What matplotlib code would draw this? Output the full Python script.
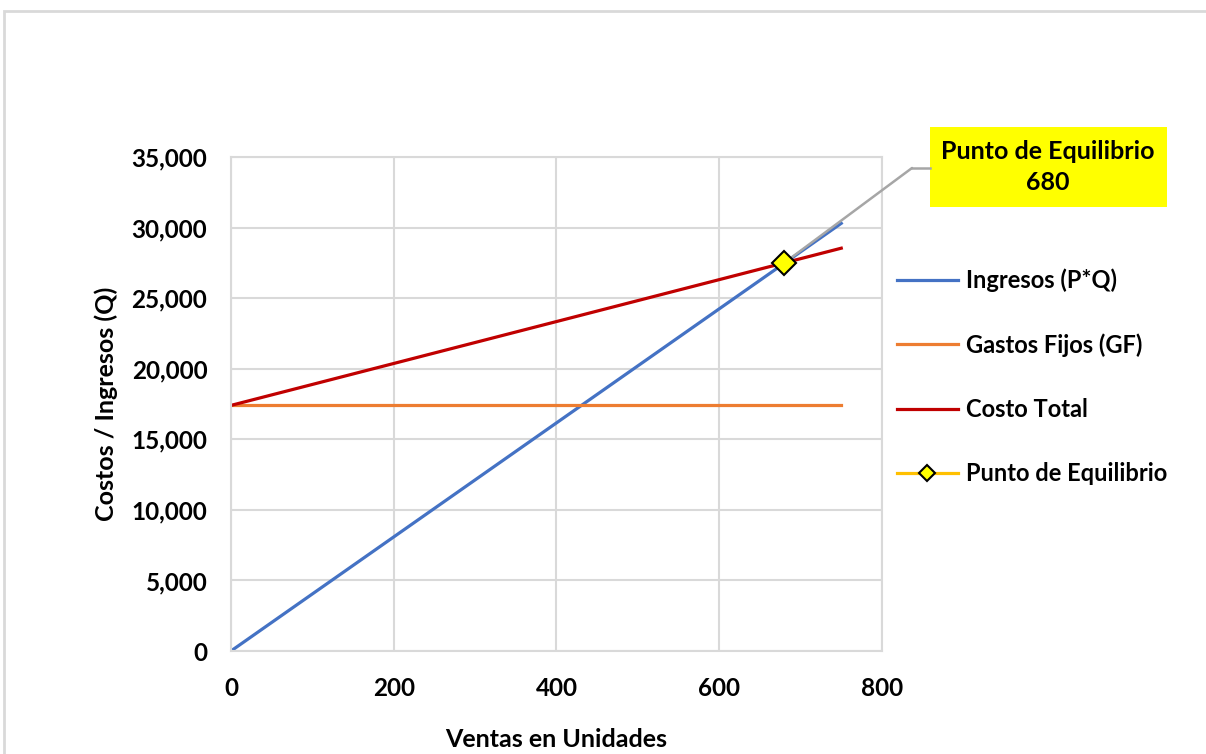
import matplotlib.pyplot as plt
from matplotlib.lines import Line2D
from matplotlib.patches import Rectangle
from matplotlib.ticker import FuncFormatter

plt.rcParams['font.family'] = ['Lato', 'DejaVu Sans']
plt.rcParams['font.weight'] = 'bold'

# unidades vendidas
unidades = [0, 50, 100, 150, 200, 250, 300, 350, 400, 450, 500, 550, 600, 650, 700, 750]
ingresos = [0, 2020, 4040, 6060, 8080, 10100, 12120, 14140, 16160, 18180,
            20200, 22220, 24240, 26260, 28280, 30300]
gastos_fijos = [17400] * 16
costo_total = [17400, 18143, 18885, 19628, 20370, 21113, 21855, 22598, 23340,
               24083, 24825, 25568, 26310, 27053, 27795, 28538]
equilibrio_q = 680
equilibrio_v = 27500

fig = plt.figure(figsize=(12.06, 7.54), dpi=100)
ax = fig.add_axes([0.1915, 0.1366, 0.5398, 0.6552])

ax.plot(unidades, ingresos, color='#4472C4', lw=2.3, label='Ingresos (P*Q)')
ax.plot(unidades, gastos_fijos, color='#ED7D31', lw=2.3, label='Gastos Fijos (GF)')
ax.plot(unidades, costo_total, color='#C00000', lw=2.3, label='Costo Total')
ax.plot([equilibrio_q], [equilibrio_v], color='#FFC000', lw=2.3, marker='D',
        markersize=12, markerfacecolor='#FFFF00', markeredgecolor='black',
        markeredgewidth=1.5, label='Punto de Equilibrio', zorder=5)

ax.set_xlim(0, 800)
ax.set_ylim(0, 35000)
ax.set_xticks(range(0, 801, 200))
ax.set_yticks(range(0, 35001, 5000))
ax.yaxis.set_major_formatter(FuncFormatter(lambda v, p: f'{int(v):,}'))
ax.grid(True, color='#D9D9D9', lw=1.5)
ax.set_axisbelow(True)
for s in ax.spines.values():
    s.set_color('#D9D9D9')
    s.set_linewidth(1.5)
ax.tick_params(length=0, labelsize=17.5)
ax.tick_params(axis='y', pad=17)
ax.tick_params(axis='x', pad=19)

ax.set_xlabel('Ventas en Unidades', fontsize=18, fontweight='bold', labelpad=20)
ax.set_ylabel('Costos / Ingresos (Q)', fontsize=18, fontweight='bold', labelpad=10)

ax.legend(loc='center left', bbox_to_anchor=(0.99, 0.555), frameon=False,
          fontsize=17, handlelength=2.6, labelspacing=1.75, handletextpad=0.35,
          markerscale=0.7)

# etiqueta del punto de equilibrio con linea guia
codo = (912, 586)
ax.annotate('', xy=(equilibrio_q, equilibrio_v), xycoords='data',
            xytext=codo, textcoords='figure pixels',
            arrowprops=dict(arrowstyle='-', color='#A6A6A6', lw=1.8,
                            shrinkA=0, shrinkB=0), zorder=4)
fig.add_artist(Line2D([codo[0], 930], [codo[1], codo[1]], color='#A6A6A6', lw=1.8,
                      transform=None))
fig.add_artist(Rectangle((930, 547), 237, 80, facecolor='#FFFF00',
                         edgecolor='none', transform=None))
fig.text(1048 / 1206, 587 / 754, f'Punto de Equilibrio\n{equilibrio_q}',
         ha='center', va='center', fontsize=18, fontweight='bold',
         linespacing=1.4)

# marco del grafico
fig.add_artist(Rectangle((4 / 1206, -0.1), 1.2, (754 - 11) / 754 + 0.1,
                         facecolor='none', edgecolor='#D9D9D9', lw=2,
                         transform=fig.transFigure))

fig.savefig('out.png', dpi=100)
